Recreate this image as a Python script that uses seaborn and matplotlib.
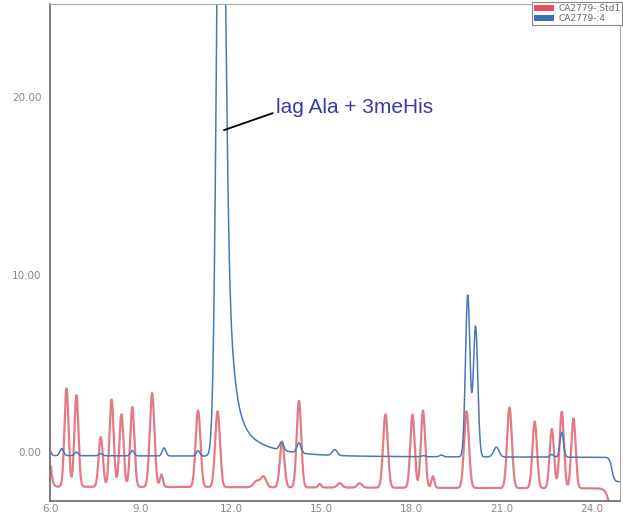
import numpy as np
import pandas as pd
import matplotlib
matplotlib.use("Agg")
import matplotlib.pyplot as plt
from matplotlib.patches import Patch
import seaborn as sns

# Sample names
sample_names = ["CA2779-:Std1", "CA2779-:4"]

# Standard (red): retention time (min), peak height above baseline, peak width (sigma, min)
std_rt     = [5.75, 6.52, 6.85, 7.66, 8.02, 8.35, 8.71, 9.37, 9.68, 10.90, 11.55, 12.85, 13.08,
              13.70, 14.26, 14.95, 15.62, 16.28, 17.14, 18.04, 18.39, 18.72, 19.84, 21.27,
              22.11, 22.68, 23.01, 23.40]
std_height = [10.0, 5.54, 5.16, 2.81, 4.92, 4.09, 4.50, 5.29, 0.70, 4.32, 4.28, 0.35, 0.60,
              2.59, 4.88, 0.20, 0.25, 0.25, 4.13, 4.13, 4.35, 0.65, 4.32, 4.54,
              3.75, 3.34, 4.32, 3.94]
std_sigma  = [0.12, 0.068, 0.068, 0.07, 0.07, 0.07, 0.07, 0.078, 0.05, 0.08, 0.08, 0.10, 0.09,
              0.075, 0.075, 0.05, 0.08, 0.08, 0.078, 0.072, 0.072, 0.05, 0.08, 0.08,
              0.075, 0.072, 0.072, 0.072]
std_baseline = [-1.95, -2.05]          # level at start / end of run
std_drop = [24.62, -2.2, 0.07]         # baseline drop at end of run: time, size, width

# Sample 4 (blue)
smp_rt     = [5.95, 6.36, 6.85, 7.66, 8.71, 9.77, 10.90, 11.64, 13.68, 14.26, 15.45, 18.40,
              19.00, 19.88, 20.14, 20.83, 22.68, 23.01]
smp_height = [0.35, 0.40, 0.20, 0.12, 0.30, 0.45, 0.30, 40.0, 0.46, 0.57, 0.33, 0.06,
              0.10, 9.10, 7.35, 0.55, 0.15, 1.40]
smp_sigma  = [0.05, 0.06, 0.06, 0.06, 0.06, 0.06, 0.06, 0.12, 0.07, 0.07, 0.08, 0.06,
              0.06, 0.075, 0.075, 0.09, 0.06, 0.06]
smp_baseline = [-0.20, -0.30]
smp_drop = [24.68, -1.37, 0.04]
# Tailing of the large peak at 11.64 min: amplitude, decay constant (min)
tail_start = 11.64
tail_onset = 11.78
tail_amp = [30.0, 12.0, 2.6]
tail_tau = [0.15, 0.25, 1.00]

x_ticks = [6, 9, 12, 15, 18, 21, 24]
y_ticks = [0, 10, 20]
annotation = "lag Ala + 3meHis"

time = np.linspace(6.0, 24.95, 4000)


def trace(rt, height, sigma, base, drop):
    y = base[0] + (base[1] - base[0]) * (time - time[0]) / (time[-1] - time[0])
    for r, h, s in zip(rt, height, sigma):
        y = y + h * np.exp(-0.5 * ((time - r) / s) ** 2)
    y = y + drop[1] / (1.0 + np.exp(-(time - drop[0]) / drop[2]))
    return y


red = trace(std_rt, std_height, std_sigma, std_baseline, std_drop)
blue = trace(smp_rt, smp_height, smp_sigma, smp_baseline, smp_drop)
dt = np.clip(time - tail_start, 0, None)
onset = 1.0 / (1.0 + np.exp(-(time - tail_onset) / 0.04))
for a, tau in zip(tail_amp, tail_tau):
    blue = blue + onset * a * np.exp(-dt / tau)

df = pd.concat([
    pd.DataFrame({"time": time, "signal": red, "sample": sample_names[0]}),
    pd.DataFrame({"time": time, "signal": blue, "sample": sample_names[1]}),
])

sns.set_style("white")
plt.rcParams["font.family"] = ["DejaVu Sans"]

fig = plt.figure(figsize=(6.23, 5.15), dpi=100)
ax = fig.add_axes([50 / 623, 14 / 515, 570 / 623, 497 / 515])

palette = {sample_names[0]: "#e47a85", sample_names[1]: "#4a78b5"}
sns.lineplot(data=df[df["sample"] == sample_names[0]], x="time", y="signal",
             color=palette[sample_names[0]], lw=1.6, ax=ax, legend=False)
sns.lineplot(data=df[df["sample"] == sample_names[1]], x="time", y="signal",
             color=palette[sample_names[1]], lw=1.1, ax=ax, legend=False)

ax.set_xlim(5.97, 24.95)
ax.set_ylim(-2.76, 25.25)
ax.set_xticks(x_ticks)
ax.set_xticklabels([f"{t:.1f}" for t in x_ticks])
ax.set_yticks(y_ticks)
ax.set_yticklabels([f"{t:.2f}" for t in y_ticks])
ax.set_xlabel("")
ax.set_ylabel("")
ax.tick_params(axis="x", direction="in", length=3, width=0.8, colors="#777777", labelsize=7.5, pad=2,
               labelcolor="#8a8a8a")
ax.tick_params(axis="y", direction="out", length=5, width=0.8, colors="#777777", labelsize=7.5, pad=1,
               labelcolor="#8a8a8a")
for side in ["left", "bottom"]:
    ax.spines[side].set_color("#666666")
    ax.spines[side].set_linewidth(1.2)
for side in ["top", "right"]:
    ax.spines[side].set_color("#aaaaaa")
    ax.spines[side].set_linewidth(0.8)

# Peak label with leader line
ax.annotate("", xy=(11.76, 18.14), xytext=(13.39, 19.1),
            arrowprops=dict(arrowstyle="-", color="black", lw=1.3, shrinkA=0, shrinkB=0))
ax.text(13.49, 19.1, annotation, color="#3b3ba8", fontsize=15, fontfamily="Liberation Sans",
        va="baseline", ha="left")

handles = [Patch(facecolor="#e8505a", edgecolor="none", label=sample_names[0]),
           Patch(facecolor="#3f6fb0", edgecolor="none", label=sample_names[1])]
leg = fig.legend(handles=handles, loc="upper right", bbox_to_anchor=(1.0, 0.997), fontsize=6.5,
                 frameon=True, fancybox=False, framealpha=1, edgecolor="#888888",
                 handlelength=2.2, handleheight=0.6, borderpad=0.2, labelspacing=0.1,
                 handletextpad=0.5, borderaxespad=0.1)
leg.get_frame().set_linewidth(0.8)
for t in leg.get_texts():
    t.set_color("#6a6a6a")

fig.savefig("out.png", dpi=100)
